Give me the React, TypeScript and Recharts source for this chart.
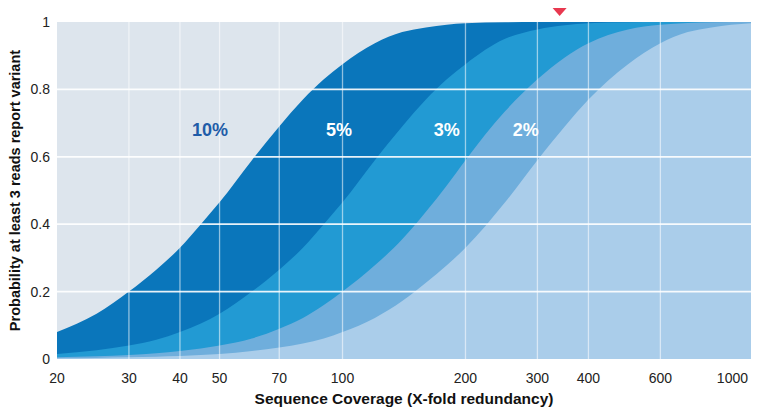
import React from 'react';
import {
  AreaChart,
  Area,
  XAxis,
  YAxis,
  CartesianGrid,
  ReferenceLine,
  ReferenceDot,
} from 'recharts';

// coverage values (x, log scale)
const coverage = [20, 25, 30, 35, 40, 45, 50, 60, 70, 80, 90, 100, 120, 140, 160, 180, 200, 250, 300, 350, 400, 500, 600, 700, 800, 1000];

// probability that at least 3 reads report the variant, per variant frequency
const freq10 = [0.08, 0.134, 0.2, 0.265, 0.33, 0.4, 0.465, 0.59, 0.69, 0.77, 0.83, 0.875, 0.937, 0.97, 0.984, 0.992, 0.996, 0.999, 1, 1, 1, 1, 1, 1, 1, 1];
const freq5 = [0.015, 0.026, 0.04, 0.057, 0.08, 0.105, 0.134, 0.2, 0.265, 0.33, 0.4, 0.465, 0.59, 0.69, 0.77, 0.83, 0.875, 0.95, 0.978, 0.99, 0.996, 0.999, 1, 1, 1, 1];
const freq3 = [0.005, 0.008, 0.012, 0.017, 0.024, 0.031, 0.04, 0.061, 0.09, 0.122, 0.16, 0.2, 0.278, 0.355, 0.437, 0.515, 0.59, 0.735, 0.83, 0.895, 0.937, 0.978, 0.992, 0.997, 0.999, 1];
const freq2 = [0.002, 0.003, 0.005, 0.007, 0.009, 0.012, 0.015, 0.024, 0.034, 0.046, 0.061, 0.08, 0.122, 0.172, 0.226, 0.278, 0.33, 0.465, 0.59, 0.69, 0.77, 0.875, 0.937, 0.97, 0.984, 0.996];

const xTicks = [20, 30, 40, 50, 70, 100, 200, 300, 400, 600, 1000];
const yTicks = [0, 0.2, 0.4, 0.6, 0.8, 1];
const xGrid = [30, 40, 50, 70, 100, 200, 300, 400, 600];
const yGrid = [0.2, 0.4, 0.6, 0.8];

// series labels placed next to each curve
const seriesLabels = [
  { text: '10%', x: 47.4, y: 0.68, color: '#1f5ca8' },
  { text: '5%', x: 98, y: 0.68, color: '#ffffff' },
  { text: '3%', x: 180, y: 0.68, color: '#ffffff' },
  { text: '2%', x: 281, y: 0.68, color: '#ffffff' },
];
const markerCoverage = 340;

const data = coverage.map((x, i) => ({
  x,
  p10: freq10[i],
  p5: freq5[i],
  p3: freq3[i],
  p2: freq2[i],
}));

const FONT = '"Liberation Sans", Arial, Helvetica, sans-serif';

const XTick = (props: any) => {
  const { x, y, payload } = props;
  const last = payload.value === 1000;
  return (
    <text
      x={last ? x + 2 : x}
      y={y}
      dy="0.71em"
      textAnchor={last ? 'end' : 'middle'}
      fontSize={14}
      fontFamily={FONT}
      fill="#222"
    >
      {payload.value}
    </text>
  );
};

const App: React.FC = () => {
  return (
    <div style={{ position: 'absolute', left: 0, top: 0, width: 762, height: 417, background: '#fff' }}>
      <AreaChart
        width={762}
        height={417}
        data={data}
        margin={{ top: 22, right: 11, bottom: 0, left: 0 }}
      >
        <CartesianGrid fill="#dde5ed" horizontal={false} vertical={false} stroke="none" />
        <XAxis
          dataKey="x"
          type="number"
          scale="log"
          domain={[20, 1000]}
          ticks={xTicks}
          allowDataOverflow
          axisLine={false}
          tickLine={false}
          tickSize={0}
          tickMargin={14}
          height={58}
          tick={<XTick />}
          label={{
            value: 'Sequence Coverage (X-fold redundancy)',
            position: 'insideBottom',
            offset: 13,
            style: { fontSize: 15.5, fontWeight: 700, fontFamily: FONT, fill: '#111' },
          }}
        />
        <YAxis
          type="number"
          domain={[0, 1]}
          ticks={yTicks}
          width={57}
          axisLine={false}
          tickLine={false}
          tickSize={0}
          tickMargin={7}
          tick={{ fontSize: 14, fontFamily: FONT, fill: '#222' }}
          label={{
            content: ({ viewBox }: any) => (
              <text
                x={15}
                y={viewBox.y + viewBox.height / 2}
                transform={`rotate(-90, 15, ${viewBox.y + viewBox.height / 2})`}
                textAnchor="middle"
                dominantBaseline="central"
                fontSize={14.5}
                fontWeight={700}
                fontFamily={FONT}
                fill="#111"
              >
                Probability at least 3 reads report variant
              </text>
            ),
          }}
        />
        <Area type="monotone" dataKey="p10" stroke="none" fill="#0a76bb" fillOpacity={1} isAnimationActive={false} />
        <Area type="monotone" dataKey="p5" stroke="none" fill="#229ad3" fillOpacity={1} isAnimationActive={false} />
        <Area type="monotone" dataKey="p3" stroke="none" fill="#6faedc" fillOpacity={1} isAnimationActive={false} />
        <Area type="monotone" dataKey="p2" stroke="none" fill="#aacdea" fillOpacity={1} isAnimationActive={false} />
        {xGrid.map((v) => (
          <ReferenceLine key={`vx${v}`} x={v} stroke="#ffffff" strokeOpacity={0.55} strokeWidth={1.3} />
        ))}
        {yGrid.map((v) => (
          <ReferenceLine key={`hy${v}`} y={v} stroke="#ffffff" strokeOpacity={0.9} strokeWidth={1.7} />
        ))}
        {seriesLabels.map((l) => (
          <ReferenceDot
            key={l.text}
            x={l.x}
            y={l.y}
            r={0}
            shape={(p: any) => (
              <text
                x={p.cx}
                y={p.cy}
                textAnchor="middle"
                dominantBaseline="central"
                fontSize={18}
                fontWeight={700}
                fontFamily={FONT}
                fill={l.color}
              >
                {l.text}
              </text>
            )}
          />
        ))}
        <ReferenceDot
          x={markerCoverage}
          y={1}
          r={0}
          ifOverflow="visible"
          shape={(p: any) => (
            <path d={`M${p.cx - 7},${p.cy - 14} L${p.cx + 7},${p.cy - 14} L${p.cx},${p.cy - 6} Z`} fill="#e8384f" />
          )}
        />
      </AreaChart>
    </div>
  );
};

export default App;
